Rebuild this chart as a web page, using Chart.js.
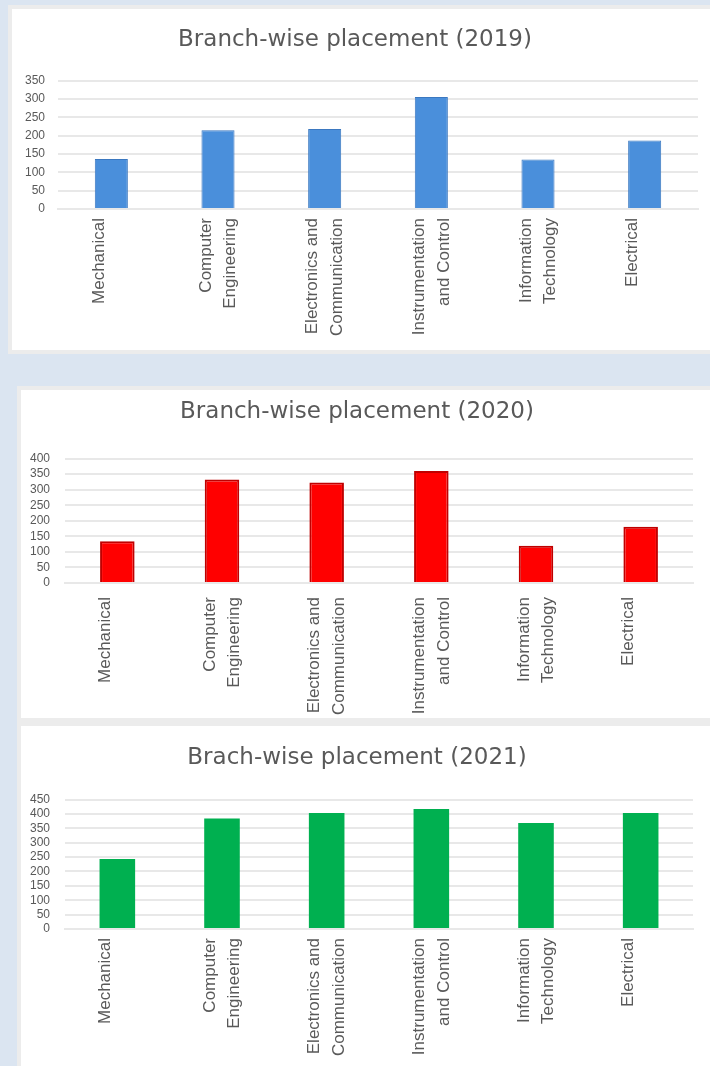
<!DOCTYPE html>
<html>
<head>
<meta charset="utf-8">
<script src="https://cdn.jsdelivr.net/npm/chart.js@4.4.1/dist/chart.umd.min.js"></script>
<style>
  body { margin: 0; background: #dbe5f1; width: 710px; height: 1066px; overflow: hidden; position: relative; }
  .panel { position: absolute; background: #fff; box-sizing: border-box; border: 4px solid #ececec; }
  #p1 { left: 8px; top: 5px; width: 710px; height: 349px; }
  #p2 { left: 17px; top: 386px; width: 700px; height: 336px; }
  #p3 { left: 17px; top: 722px; width: 700px; height: 360px; }
  canvas { position: absolute; left: 0; top: 0; }
</style>
</head>
<body>
<div class="panel" id="p1"><canvas id="chart2019" width="698" height="340"></canvas></div>
<div class="panel" id="p2"><canvas id="chart2020" width="689" height="328"></canvas></div>
<div class="panel" id="p3"><canvas id="chart2021" width="689" height="340"></canvas></div>
<script>
// branches, in the order they appear on the x axis
const branches = [
    ['Mechanical'],
    ['Computer', 'Engineering'],
    ['Electronics and', 'Communication'],
    ['Instrumentation', 'and Control'],
    ['Information', 'Technology'],
    ['Electrical']
];

// students placed per branch
const placed2019 = [136, 215, 218, 305, 135, 187];
const placed2020 = [134, 333, 323, 360, 120, 181];
const placed2021 = [243, 384, 403, 417, 369, 403];

// y axis tick labels
const yTicks2019 = [0, 50, 100, 150, 200, 250, 300, 350];
const yTicks2020 = [0, 50, 100, 150, 200, 250, 300, 350, 400];
const yTicks2021 = [0, 50, 100, 150, 200, 250, 300, 350, 400, 450];

const textGray = '#595959';
const gridGray = '#e8e8e8';

function createChart(id, title, values, yTicks, look) {
    const ctx = document.getElementById(id);
    return new Chart(ctx, {
        type: 'bar',
        data: {
            labels: branches,
            datasets: [{
                label: title,
                data: values,
                backgroundColor: look.fill,
                borderColor: look.border,
                borderWidth: look.borderWidth,
                categoryPercentage: look.barPct,
                barPercentage: 1
            }]
        },
        options: {
            responsive: false,
            animation: false,
            layout: { padding: { left: 0, right: look.right, top: 0, bottom: 0 } },
            plugins: {
                legend: { display: false },
                tooltip: { enabled: false },
                title: {
                    display: true,
                    text: title,
                    color: textGray,
                    font: { family: 'DejaVu Sans', size: 23, weight: 'normal', lineHeight: 1.2 },
                    padding: { top: look.titleTop, bottom: look.titleBottom }
                }
            },
            scales: {
                x: {
                    grid: { display: false, drawTicks: false },
                    border: { color: gridGray, width: 2 },
                    ticks: {
                        autoSkip: false,
                        minRotation: 90,
                        maxRotation: 90,
                        padding: look.xPad,
                        labelOffset: -12,
                        color: textGray,
                        font: { family: 'Liberation Sans', size: 17, lineHeight: 1.45 }
                    },
                    afterFit: (scale) => { scale.height = look.xHeight; }
                },
                y: {
                    min: yTicks[0],
                    max: yTicks[yTicks.length - 1],
                    grid: { color: gridGray, lineWidth: 2, drawTicks: false },
                    border: { display: false },
                    ticks: {
                        stepSize: yTicks[1] - yTicks[0],
                        autoSkip: false,
                        padding: look.yPad,
                        color: textGray,
                        font: { family: 'Liberation Sans', size: 12 }
                    },
                    afterFit: (scale) => { scale.width = look.yWidth; }
                }
            }
        }
    });
}

createChart('chart2019', 'Branch-wise placement (2019)', placed2019, yTicks2019, {
    fill: '#4a8fdb', border: '#3b78c0', borderWidth: 1, barPct: 0.31,
    right: 12, titleTop: 17, titleBottom: 27, xPad: 9, xHeight: 140, yPad: 13, yWidth: 46
});

createChart('chart2020', 'Branch-wise placement (2020)', placed2020, yTicks2020, {
    fill: '#ff0000', border: '#c00000', borderWidth: 2, barPct: 0.33,
    right: 17, titleTop: 8, titleBottom: 33, xPad: 14, xHeight: 135, yPad: 15, yWidth: 44
});

createChart('chart2021', 'Brach-wise placement (2021)', placed2021, yTicks2021, {
    fill: '#00b050', border: '#00b050', borderWidth: 0, barPct: 0.34,
    right: 17, titleTop: 18, titleBottom: 28, xPad: 9, xHeight: 137, yPad: 15, yWidth: 44
});
</script>
</body>
</html>
